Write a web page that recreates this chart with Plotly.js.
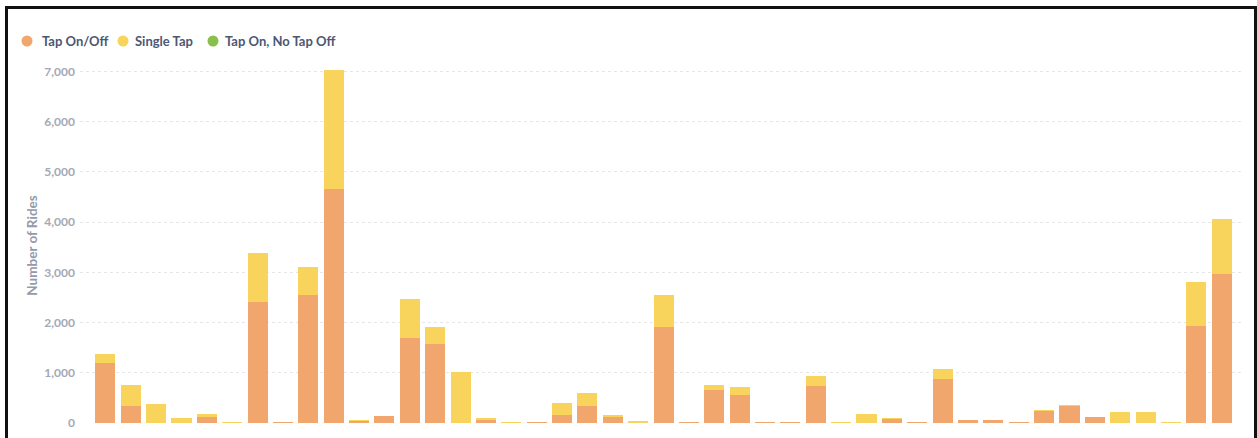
<!DOCTYPE html>
<html>
<head>
<meta charset="utf-8">
<script src="https://cdn.plot.ly/plotly-3.0.1.min.js"></script>
<style>
  html, body { margin: 0; padding: 0; background: #ffffff; overflow: hidden; width: 1257px; height: 438px; }
  #chart { position: absolute; left: 0; top: 0; width: 1257px; height: 480px; }
  #frame { position: absolute; left: 5px; top: 6px; width: 1252px; height: 500px; box-sizing: border-box;
           border: 3px solid #111; pointer-events: none; }
</style>
</head>
<body>
<div id="chart"></div>
<div id="frame"></div>
<script>
// Categories (labels are cut off in the reference, so they are not drawn)
const categories = [
  "C01","C02","C03","C04","C05","C06","C07","C08","C09","C10",
  "C11","C12","C13","C14","C15","C16","C17","C18","C19","C20",
  "C21","C22","C23","C24","C25","C26","C27","C28","C29","C30",
  "C31","C32","C33","C34","C35","C36","C37","C38","C39","C40",
  "C41","C42","C43","C44","C45"
];

// Number of rides per fare type
const tapOnOff = [
  1190, 345, 0, 10, 125, 0, 2400, 20, 2546, 4654,
  40, 140, 1699, 1567, 0, 60, 0, 25, 166, 345,
  113, 5, 1918, 20, 657, 558, 20, 20, 743, 0,
  0, 75, 13, 870, 60, 60, 20, 245, 330, 110,
  0, 0, 0, 1938, 2967
];
const singleTap = [
  180, 420, 372, 85, 60, 20, 985, 0, 560, 2376,
  15, 5, 764, 351, 1022, 35, 15, 0, 226, 246,
  46, 35, 625, 0, 106, 165, 0, 0, 193, 13,
  186, 25, 0, 199, 0, 0, 0, 15, 25, 15,
  212, 226, 15, 864, 1096
];
const tapOnNoTapOff = [
  0, 0, 0, 0, 0, 0, 0, 0, 0, 0,
  0, 0, 0, 0, 0, 0, 0, 0, 0, 0,
  0, 0, 0, 0, 0, 0, 0, 0, 0, 0,
  0, 0, 0, 0, 0, 0, 0, 0, 0, 0,
  0, 0, 0, 0, 0
];
const seriesNames = ["Tap On/Off", "Single Tap", "Tap On, No Tap Off"];
const seriesColors = ["#F1A66D", "#F9D45C", "#88BF4D"];
const yTickVals = [0, 1000, 2000, 3000, 4000, 5000, 6000, 7000];
const yTickText = ["0", "1,000", "2,000", "3,000", "4,000", "5,000", "6,000", "7,000"];

// page geometry of the plot area (pixels) used to place the legend row
const W = 1257, H = 480;
const M = { l: 80, r: 15, t: 68, b: 57 };
const plotW = W - M.l - M.r, plotH = H - M.t - M.b;
const legendDotPx = [27, 123, 213];
const legendTextPx = [40, 133, 223];
const legendRowPx = 41;
const px2x = p => (p - M.l) / plotW;
const py2y = p => (H - M.b - p) / plotH;

const seriesValues = [tapOnOff, singleTap, tapOnNoTapOff];
const traces = seriesValues.map((vals, i) => ({
  type: "bar", x: categories, y: vals, name: seriesNames[i],
  marker: { color: seriesColors[i], line: { width: 0 } },
  showlegend: false, hoverinfo: "x+y+name"
}));

const shapes = [], annotations = [];
seriesNames.forEach((name, i) => {
  shapes.push({
    type: "circle", xref: "paper", yref: "paper",
    xsizemode: "pixel", ysizemode: "pixel",
    xanchor: px2x(legendDotPx[i]), yanchor: py2y(legendRowPx),
    x0: -5.5, x1: 5.5, y0: -5.5, y1: 5.5,
    fillcolor: seriesColors[i], line: { width: 0 }
  });
  annotations.push({
    text: name, xref: "paper", yref: "paper",
    x: px2x(legendTextPx[i]), y: py2y(legendRowPx),
    xanchor: "left", yanchor: "middle", showarrow: false,
    font: { family: "Lato, sans-serif", size: 13, color: "#4C5773", weight: 700 }
  });
});

const layout = {
  width: W, height: H,
  margin: { l: M.l, r: M.r, t: M.t, b: M.b, pad: 0 },
  paper_bgcolor: "#ffffff", plot_bgcolor: "#ffffff",
  barmode: "stack", bargap: 0.21,
  font: { family: "Lato, 'Open Sans', sans-serif", color: "#949AAB" },
  showlegend: false,
  shapes: shapes, annotations: annotations,
  xaxis: {
    type: "category", range: [-1.0, 44.8], showticklabels: false,
    showgrid: false, zeroline: false, showline: false, ticks: "", fixedrange: true
  },
  yaxis: {
    range: [0, 7070], tickvals: yTickVals, ticktext: yTickText,
    tickfont: { family: "Lato, sans-serif", size: 12, color: "#A4A9B5", weight: 700 },
    showgrid: true, gridcolor: "#E4E6EA", griddash: "3px,3px", gridwidth: 1,
    zeroline: false, showline: false, ticks: "", ticklabelstandoff: 4,
    title: { text: "Number of Rides", font: { family: "Lato, sans-serif", size: 13.5, color: "#949AAB", weight: 700 }, standoff: 3 },
    fixedrange: true
  }
};

Plotly.newPlot("chart", traces, layout, { displayModeBar: false, staticPlot: true });
</script>
</body>
</html>
